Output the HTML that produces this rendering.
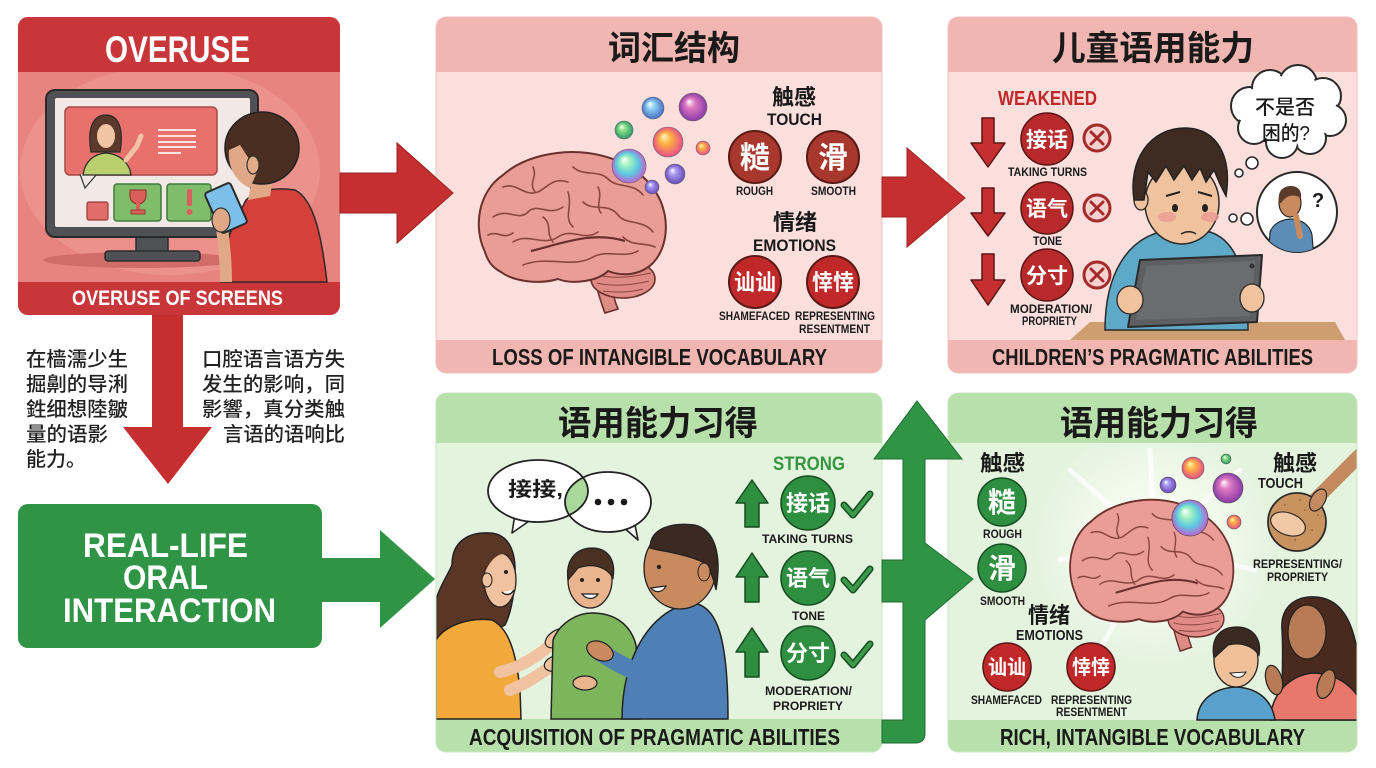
<!DOCTYPE html>
<html><head><meta charset="utf-8">
<style>
html,body{margin:0;padding:0;background:#fff;}
svg{display:block;}
.en{font-family:"Liberation Sans",sans-serif;font-weight:700;}
.cn{font-family:"Liberation Sans","Noto Sans CJK SC",sans-serif;font-weight:700;}
.cr{font-family:"Liberation Sans","Noto Sans CJK SC",sans-serif;font-weight:500;}
</style></head><body>
<svg width="1376" height="768" viewBox="0 0 1376 768" xmlns="http://www.w3.org/2000/svg">
<defs>
<clipPath id="c1"><rect x="18" y="17" width="322" height="298" rx="10"/></clipPath>
<clipPath id="c2"><rect x="436" y="17" width="446" height="356" rx="10"/></clipPath>
<clipPath id="c3"><rect x="948" y="17" width="409" height="356" rx="10"/></clipPath>
<clipPath id="c4"><rect x="436" y="393" width="446" height="359" rx="10"/></clipPath>
<clipPath id="c5"><rect x="948" y="393" width="409" height="359" rx="10"/></clipPath>
<clipPath id="cth"><circle cx="1297" cy="212" r="40"/></clipPath>
<clipPath id="lb"><ellipse cx="538" cy="491" rx="50" ry="31"/></clipPath>
<radialGradient id="gBlue" fx="0.35" fy="0.3"><stop offset="0" stop-color="#ffffff"/><stop offset="0.35" stop-color="#8fd3f2"/><stop offset="1" stop-color="#4a6fc8"/></radialGradient>
<radialGradient id="gMag" fx="0.35" fy="0.3"><stop offset="0" stop-color="#ffffff"/><stop offset="0.35" stop-color="#e07ac0"/><stop offset="1" stop-color="#8a3aa8"/></radialGradient>
<radialGradient id="gGreen" fx="0.35" fy="0.3"><stop offset="0" stop-color="#ffffff"/><stop offset="0.35" stop-color="#8fe08a"/><stop offset="1" stop-color="#2e9a6a"/></radialGradient>
<radialGradient id="gOr" fx="0.35" fy="0.3"><stop offset="0" stop-color="#fff7c0"/><stop offset="0.4" stop-color="#fbb040"/><stop offset="1" stop-color="#e8508a"/></radialGradient>
<radialGradient id="gPur" fx="0.35" fy="0.3"><stop offset="0" stop-color="#ffffff"/><stop offset="0.35" stop-color="#a89af0"/><stop offset="1" stop-color="#6a4ab8"/></radialGradient>
<radialGradient id="gRain" fx="0.35" fy="0.3"><stop offset="0" stop-color="#ffffff"/><stop offset="0.3" stop-color="#9ff0c0"/><stop offset="0.65" stop-color="#5cc8e0"/><stop offset="1" stop-color="#c060d0"/></radialGradient>
<radialGradient id="glow"><stop offset="0" stop-color="#ffffff" stop-opacity="0.95"/><stop offset="0.5" stop-color="#fbfff5" stop-opacity="0.6"/><stop offset="1" stop-color="#ffffff" stop-opacity="0"/></radialGradient>
<g id="brain">
  <path d="M120,126 C124,142 128,156 132,166 L145,162 C140,150 138,140 140,126 Z" fill="#e08c86" stroke="#6a302c" stroke-width="1.6"/>
  <ellipse cx="150" cy="132" rx="32" ry="19" fill="#df8a84" stroke="#6a302c" stroke-width="1.6"/>
  <path d="M125,128 C140,132 160,130 178,126 M124,136 C140,140 160,138 176,134 M130,144 C145,146 160,145 170,142" stroke="#8c4541" stroke-width="1" fill="none"/>
  <path d="M12,105 C0,80 5,45 30,28 C50,10 85,2 115,6 C145,10 175,25 188,55 C197,78 193,102 180,116 C168,128 150,130 135,124 C125,134 100,138 85,132 C65,138 40,134 28,125 C18,120 14,112 12,105 Z" fill="#ea9c96" stroke="#6a302c" stroke-width="2"/>
  <g stroke="#8c4541" stroke-width="1.6" fill="none" stroke-linecap="round">
    <path d="M30,40 C45,35 50,50 65,45 C75,40 80,30 95,35"/>
    <path d="M20,70 C35,60 45,75 55,65 C65,55 75,70 90,60"/>
    <path d="M100,20 C110,30 125,22 135,32 C145,42 160,35 170,48"/>
    <path d="M40,95 C55,85 70,100 85,90 C100,80 110,95 125,85"/>
    <path d="M110,55 C120,65 135,55 145,68 C152,78 170,72 180,85"/>
    <path d="M50,118 C75,108 100,122 120,110 C135,102 150,112 165,104"/>
    <path d="M95,45 C100,60 90,70 100,80"/>
    <path d="M150,90 C160,100 172,95 182,100"/>
    <path d="M15,88 C25,83 30,93 40,86"/>
    <path d="M60,20 C65,30 55,35 62,45"/>
    <path d="M125,40 C130,50 122,58 128,66"/>
    <path d="M70,70 C80,78 72,85 80,95"/>
  </g>
  <path d="M58,104 C90,96 120,84 152,94" stroke="#6a302c" stroke-width="2.2" fill="none"/>
</g>
</defs>

<!-- ============ PANEL 1 ============ -->
<g clip-path="url(#c1)">
  <rect x="18" y="17" width="322" height="298" fill="#e8847f"/>
  <ellipse cx="170" cy="170" rx="150" ry="105" fill="#ee9c98" opacity="0.55"/>
  <rect x="18" y="17" width="322" height="55" fill="#c8363a"/>
  <rect x="18" y="282" width="322" height="33" fill="#c8363a"/>
</g>
<text class="en" x="105" y="62" font-size="37" fill="#fff" textLength="145" lengthAdjust="spacingAndGlyphs">OVERUSE</text>
<text class="en" x="72" y="305" font-size="21" fill="#fff" textLength="211" lengthAdjust="spacingAndGlyphs">OVERUSE OF SCREENS</text>
<!-- monitor -->
<ellipse cx="141" cy="260" rx="98" ry="8" fill="#d06d69"/>
<rect x="136" y="235" width="32" height="18" fill="#505155" stroke="#2e2e2e" stroke-width="1.5"/>
<rect x="105" y="251" width="95" height="10" rx="3" fill="#505155" stroke="#2e2e2e" stroke-width="1.5"/>
<rect x="46" y="90" width="212" height="147" rx="9" fill="#505155" stroke="#2a2a2a" stroke-width="2"/>
<rect x="55" y="98" width="195" height="129" rx="2" fill="#f2e8e6"/>
<rect x="65" y="107" width="152" height="68" rx="5" fill="#e8716d" stroke="#a84845" stroke-width="1.5"/>
<path d="M80,174 L85,188 L97,174" fill="#f2e8e6" stroke="#333" stroke-width="1.2"/>
<path d="M91,152 C87,128 93,115 106,115 C119,115 124,130 120,152 Z" fill="#5b3a2b" stroke="#2a2a2a" stroke-width="1.2"/>
<ellipse cx="106" cy="136" rx="9" ry="12" fill="#f1c4a5"/>
<path d="M83,175 C85,161 94,154 106,153 C118,154 126,160 130,170 L131,175 Z" fill="#b9cf6e" stroke="#2a2a2a" stroke-width="1.2"/>
<path d="M126,160 L137,146 L141,136" stroke="#f1c4a5" stroke-width="5" fill="none" stroke-linecap="round"/>
<g stroke="#fbe5e3" stroke-width="2"><line x1="158" y1="130" x2="196" y2="130"/><line x1="158" y1="136" x2="196" y2="136"/><line x1="158" y1="142" x2="196" y2="142"/><line x1="158" y1="147" x2="196" y2="147"/><line x1="158" y1="153" x2="181" y2="153"/></g>
<rect x="114" y="184" width="47" height="37" rx="3" fill="#7fbd6b" stroke="#3d7a3a" stroke-width="1.5"/>
<path d="M130,190 h16 v6 a8,8 0 0 1 -16,0 z" fill="#d9605a" stroke="#8a2a28" stroke-width="1"/>
<rect x="136" y="203" width="4" height="8" fill="#d9605a"/><rect x="131" y="210" width="14" height="4" fill="#d9605a" stroke="#8a2a28" stroke-width="0.8"/>
<rect x="167" y="184" width="44" height="37" rx="3" fill="#7fbd6b" stroke="#3d7a3a" stroke-width="1.5"/>
<rect x="187" y="189" width="5" height="17" rx="2" fill="#d9605a"/><circle cx="189.5" cy="212" r="3" fill="#d9605a"/>
<rect x="87" y="202" width="21" height="18" rx="2" fill="#e06d69" stroke="#9a3b38" stroke-width="1.2"/>
<!-- boy panel1 -->
<path d="M221,282 C222,258 228,235 236,220 L246,200 C256,190 275,187 295,190 C315,200 322,240 327,282 Z" fill="#d6403b" stroke="#2a2a2a" stroke-width="1.5"/>
<path d="M248,200 L252,180 L272,184 L270,196 Z" fill="#e0a886"/>
<path d="M226,282 C226,262 224,245 222,228" stroke="#e0a886" stroke-width="12" fill="none"/>
<ellipse cx="262" cy="148" rx="37" ry="36" fill="#4b2e22" stroke="#222" stroke-width="1.5"/>
<path d="M229,150 C228,165 233,180 250,188 L258,170 C250,162 245,152 240,145 Z" fill="#e0a886"/>
<ellipse cx="253" cy="165" rx="6" ry="9" fill="#e3ab88" stroke="#333" stroke-width="1.2"/>
<g transform="rotate(-24 226 208)"><rect x="212" y="186" width="28" height="44" rx="3" fill="#7cc0ea" stroke="#2a2a2a" stroke-width="2"/></g>
<ellipse cx="221" cy="220" rx="9" ry="12" fill="#e0a886" stroke="#333" stroke-width="1.2"/>

<!-- arrows left column -->
<path d="M340,173 L397,173 L397,143 L453,193 L397,243 L397,213 L340,213 Z" fill="#c62f2f" stroke="#9e2222" stroke-width="1"/>
<path d="M152,315 L183,315 L183,427 L212,427 L168,484 L123,427 L152,427 Z" fill="#c62f2f"/>
<rect x="18" y="504" width="304" height="144" rx="10" fill="#2f9446"/>
<path d="M320,558 L380,558 L380,530 L435,579 L380,628 L380,602 L320,602 Z" fill="#2f9446"/>
<text class="en" x="83" y="557" font-size="34" fill="#fff" textLength="165" lengthAdjust="spacingAndGlyphs">REAL-LIFE</text>
<text class="en" x="123" y="589" font-size="34" fill="#fff" textLength="85" lengthAdjust="spacingAndGlyphs">ORAL</text>
<text class="en" x="63" y="622" font-size="34" fill="#fff" textLength="213" lengthAdjust="spacingAndGlyphs">INTERACTION</text>
<g class="cr" font-size="20" fill="#222">
<text x="26" y="366" textLength="102" lengthAdjust="spacingAndGlyphs">在樯濡少生</text>
<text x="26" y="391" textLength="102" lengthAdjust="spacingAndGlyphs">掘劓的导浰</text>
<text x="26" y="416" textLength="102" lengthAdjust="spacingAndGlyphs">鉎细想陸皺</text>
<text x="26" y="441" textLength="82" lengthAdjust="spacingAndGlyphs">量的语影</text>
<text x="26" y="466" textLength="60" lengthAdjust="spacingAndGlyphs">能力。</text>
<text x="202" y="366" textLength="143" lengthAdjust="spacingAndGlyphs">口腔语言语方失</text>
<text x="202" y="391" textLength="143" lengthAdjust="spacingAndGlyphs">发生的影响，同</text>
<text x="202" y="416" textLength="143" lengthAdjust="spacingAndGlyphs">影響，真分类触</text>
<text x="223" y="441" textLength="122" lengthAdjust="spacingAndGlyphs">言语的语响比</text>
</g>

<!-- ============ PANEL 2 ============ -->
<g clip-path="url(#c2)">
  <rect x="436" y="17" width="446" height="356" fill="#fbdfdc"/>
  <rect x="436" y="17" width="446" height="55" fill="#f2b6b2"/>
  <rect x="436" y="340" width="446" height="33" fill="#f2b6b2"/>
</g>
<rect x="436" y="17" width="446" height="356" rx="10" fill="none" stroke="#efc2bf" stroke-width="1"/>
<path d="M340,173 L397,173 L397,143 L453,193 L397,243 L397,213 L340,213 Z" fill="#c62f2f" stroke="#9e2222" stroke-width="1"/>
<text class="cn" x="608" y="60" font-size="34" fill="#1a1a1a" textLength="132" lengthAdjust="spacingAndGlyphs">词汇结构</text>
<text class="en" x="492" y="365" font-size="23" fill="#1a1a1a" textLength="335" lengthAdjust="spacingAndGlyphs">LOSS OF INTANGIBLE VOCABULARY</text>
<use href="#brain" transform="translate(473,147)"/>
<circle cx="653" cy="108" r="11" fill="url(#gBlue)" stroke="#666" stroke-width="0.6"/>
<circle cx="693" cy="107" r="14" fill="url(#gMag)" stroke="#666" stroke-width="0.6"/>
<circle cx="624" cy="130" r="9" fill="url(#gGreen)" stroke="#666" stroke-width="0.6"/>
<circle cx="668" cy="142" r="15" fill="url(#gOr)" stroke="#666" stroke-width="0.6"/>
<circle cx="703" cy="148" r="7" fill="url(#gOr)" stroke="#666" stroke-width="0.6"/>
<circle cx="629" cy="166" r="17" fill="url(#gRain)" stroke="#666" stroke-width="0.6"/>
<circle cx="675" cy="174" r="10" fill="url(#gPur)" stroke="#666" stroke-width="0.6"/>
<circle cx="652" cy="187" r="7" fill="url(#gPur)" stroke="#666" stroke-width="0.6"/>
<text class="cn" x="772" y="105" font-size="22" fill="#1a1a1a" textLength="44" lengthAdjust="spacingAndGlyphs">触感</text>
<text class="en" x="767" y="125" font-size="17" fill="#1a1a1a" textLength="55" lengthAdjust="spacingAndGlyphs">TOUCH</text>
<circle cx="755" cy="157" r="26" fill="#a8372e" stroke="#5a1a16" stroke-width="2"/>
<circle cx="833" cy="157" r="26" fill="#a8372e" stroke="#5a1a16" stroke-width="2"/>
<text class="cn" x="740" y="168" font-size="30" fill="#fff" textLength="30" lengthAdjust="spacingAndGlyphs">糙</text>
<text class="cn" x="818" y="168" font-size="30" fill="#fff" textLength="30" lengthAdjust="spacingAndGlyphs">滑</text>
<text class="en" x="736" y="195" font-size="12" fill="#1a1a1a" textLength="37" lengthAdjust="spacingAndGlyphs">ROUGH</text>
<text class="en" x="811" y="195" font-size="12" fill="#1a1a1a" textLength="45" lengthAdjust="spacingAndGlyphs">SMOOTH</text>
<text class="cn" x="773" y="230" font-size="22" fill="#1a1a1a" textLength="44" lengthAdjust="spacingAndGlyphs">情绪</text>
<text class="en" x="753" y="251" font-size="17" fill="#1a1a1a" textLength="83" lengthAdjust="spacingAndGlyphs">EMOTIONS</text>
<circle cx="755" cy="282" r="26" fill="#c0282a" stroke="#5a1a16" stroke-width="2"/>
<circle cx="833" cy="282" r="26" fill="#c0282a" stroke="#5a1a16" stroke-width="2"/>
<text class="cn" x="734" y="290" font-size="22" fill="#fff" textLength="42" lengthAdjust="spacingAndGlyphs">讪讪</text>
<text class="cn" x="812" y="290" font-size="22" fill="#fff" textLength="42" lengthAdjust="spacingAndGlyphs">悻悻</text>
<text class="en" x="719" y="320" font-size="12" fill="#1a1a1a" textLength="71" lengthAdjust="spacingAndGlyphs">SHAMEFACED</text>
<text class="en" x="795" y="320" font-size="12" fill="#1a1a1a" textLength="80" lengthAdjust="spacingAndGlyphs">REPRESENTING</text>
<text class="en" x="799" y="333" font-size="12" fill="#1a1a1a" textLength="71" lengthAdjust="spacingAndGlyphs">RESENTMENT</text>

<!-- ============ PANEL 3 ============ -->
<g clip-path="url(#c3)">
  <rect x="948" y="17" width="409" height="356" fill="#fbdfdc"/>
  <rect x="948" y="17" width="409" height="55" fill="#f2b6b2"/>
  <rect x="948" y="340" width="409" height="33" fill="#f2b6b2"/>
  <!-- table -->
  <path d="M1070,340 L1090,322 L1335,322 L1345,340 Z" fill="#cf9e70"/>
  <!-- boy shirt -->
  <path d="M1105,330 C1105,270 1130,240 1160,232 L1210,232 C1235,240 1248,270 1248,330 Z" fill="#5ea8c8" stroke="#2a2a2a" stroke-width="1.5"/>
</g>
<rect x="948" y="17" width="409" height="356" rx="10" fill="none" stroke="#efc2bf" stroke-width="1"/>
<path d="M882,177 L907,177 L907,148 L965,198 L907,247 L907,217 L882,217 Z" fill="#c62f2f" stroke="#9e2222" stroke-width="1"/>
<text class="cn" x="1052" y="60" font-size="34" fill="#1a1a1a" textLength="202" lengthAdjust="spacingAndGlyphs">儿童语用能力</text>
<text class="en" x="992" y="365" font-size="23" fill="#1a1a1a" textLength="321" lengthAdjust="spacingAndGlyphs">CHILDREN’S PRAGMATIC ABILITIES</text>
<text class="en" x="998" y="105" font-size="20" fill="#c0282a" textLength="99" lengthAdjust="spacingAndGlyphs">WEAKENED</text>
<g fill="#c62f2f" stroke="#5a1616" stroke-width="1.5" stroke-linejoin="round">
<path d="M982,118 h12 v25 h11 L988,167 L971,143 h11 Z"/>
<path d="M982,188 h12 v25 h11 L988,236 L971,213 h11 Z"/>
<path d="M982,254 h12 v26 h11 L988,305 L971,280 h11 Z"/>
</g>
<g fill="#b8292c" stroke="#5a1616" stroke-width="1.5">
<circle cx="1047" cy="139" r="26"/><circle cx="1047" cy="208" r="26"/><circle cx="1047" cy="275" r="26"/>
</g>
<g class="cn" font-size="21" fill="#fff">
<text x="1026" y="147" textLength="42" lengthAdjust="spacingAndGlyphs">接话</text>
<text x="1026" y="216" textLength="42" lengthAdjust="spacingAndGlyphs">语气</text>
<text x="1026" y="283" textLength="42" lengthAdjust="spacingAndGlyphs">分寸</text>
</g>
<g fill="#f6d3d0" stroke="#a52a2a" stroke-width="3">
<circle cx="1097" cy="138" r="13"/><circle cx="1097" cy="208" r="13"/><circle cx="1097" cy="275" r="13"/>
</g>
<g stroke="#a52a2a" stroke-width="3" stroke-linecap="round">
<path d="M1091,132 L1103,144 M1103,132 L1091,144"/>
<path d="M1091,202 L1103,214 M1103,202 L1091,214"/>
<path d="M1091,269 L1103,281 M1103,269 L1091,281"/>
</g>
<g class="en" font-size="12" fill="#1a1a1a">
<text x="1008" y="176" textLength="79" lengthAdjust="spacingAndGlyphs">TAKING TURNS</text>
<text x="1033" y="245" textLength="29" lengthAdjust="spacingAndGlyphs">TONE</text>
<text x="1010" y="313" textLength="82" lengthAdjust="spacingAndGlyphs">MODERATION/</text>
<text x="1022" y="325" textLength="55" lengthAdjust="spacingAndGlyphs">PROPRIETY</text>
</g>
<!-- boy face -->
<ellipse cx="1182" cy="203" rx="37" ry="41" fill="#f0c29e" stroke="#2a2a2a" stroke-width="1.5"/>
<ellipse cx="1141" cy="200" rx="7" ry="10" fill="#f0c29e" stroke="#2a2a2a" stroke-width="1.3"/>
<path d="M1134,200 C1128,160 1150,128 1185,128 C1218,128 1232,158 1226,196 L1220,184 L1214,170 L1206,182 L1200,168 L1192,180 L1184,166 L1174,180 L1166,166 L1156,182 L1148,172 L1144,200 Z" fill="#3e2b22" stroke="#222" stroke-width="1.5"/>
<ellipse cx="1167" cy="217" rx="9" ry="5" fill="#eb9a92" opacity="0.8"/>
<ellipse cx="1210" cy="217" rx="9" ry="5" fill="#eb9a92" opacity="0.8"/>
<ellipse cx="1175" cy="208" rx="3" ry="4" fill="#222"/><ellipse cx="1205" cy="208" rx="3" ry="4" fill="#222"/>
<path d="M1166,196 L1180,192 M1198,192 L1212,196" stroke="#222" stroke-width="2" fill="none"/>
<path d="M1181,234 C1186,231 1192,231 1196,234" stroke="#222" stroke-width="1.5" fill="none"/>
<!-- tablet -->
<path d="M1140,260 L1262,255 L1257,322 L1128,327 Z" fill="#5d5f63" stroke="#2a2a2a" stroke-width="2" stroke-linejoin="round"/>
<path d="M1146,266 L1255,261 L1250,316 L1136,320 Z" fill="#6a6c70"/>
<circle cx="1252" cy="266" r="2.5" fill="#333"/>
<ellipse cx="1130" cy="300" rx="13" ry="14" fill="#f0c29e" stroke="#2a2a2a" stroke-width="1.3"/>
<ellipse cx="1252" cy="298" rx="12" ry="14" fill="#f0c29e" stroke="#2a2a2a" stroke-width="1.3"/>
<!-- thought cloud -->
<g fill="#fff" stroke="#2a2a2a" stroke-width="2">
<circle cx="1250" cy="106" r="19"/><circle cx="1270" cy="88" r="18"/><circle cx="1298" cy="84" r="19"/><circle cx="1323" cy="96" r="18"/><circle cx="1330" cy="120" r="16"/><circle cx="1310" cy="138" r="16"/><circle cx="1282" cy="142" r="16"/><circle cx="1254" cy="128" r="16"/>
</g>
<g fill="#fff">
<circle cx="1250" cy="106" r="17"/><circle cx="1270" cy="88" r="16"/><circle cx="1298" cy="84" r="17"/><circle cx="1323" cy="96" r="16"/><circle cx="1330" cy="120" r="14"/><circle cx="1310" cy="138" r="14"/><circle cx="1282" cy="142" r="14"/><circle cx="1254" cy="128" r="14"/>
<ellipse cx="1290" cy="113" rx="44" ry="30"/>
</g>
<text class="cr" x="1255" y="114" font-size="20" fill="#1a1a1a" textLength="60" lengthAdjust="spacingAndGlyphs">不是否</text>
<text class="cr" x="1262" y="140" font-size="20" fill="#1a1a1a" textLength="48" lengthAdjust="spacingAndGlyphs">困的?</text>
<g fill="#fff" stroke="#2a2a2a" stroke-width="1.6">
<circle cx="1252" cy="163" r="6"/><circle cx="1239" cy="173" r="4"/><circle cx="1233" cy="218" r="4"/><circle cx="1247" cy="219" r="6"/>
<circle cx="1297" cy="212" r="40" stroke-width="2"/>
</g>
<g clip-path="url(#cth)">
<path d="M1268,260 L1270,232 C1274,222 1284,219 1292,219 C1302,220 1310,225 1312,235 L1314,260 Z" fill="#5b8db8" stroke="#2a2a2a" stroke-width="1.2"/>
<ellipse cx="1290" cy="203" rx="11" ry="14" fill="#c98a5e" stroke="#2a2a2a" stroke-width="1.2"/>
<path d="M1279,203 C1277,190 1284,186 1291,186 C1299,186 1302,192 1301,198 C1295,194 1287,194 1281,203 Z" fill="#5a3a2a"/>
<path d="M1300,236 L1296,216" stroke="#c98a5e" stroke-width="6" stroke-linecap="round"/>
</g>
<text class="en" x="1312" y="207" font-size="20" fill="#1a1a1a">?</text>

<!-- ============ PANEL 4 ============ -->
<g clip-path="url(#c4)">
  <rect x="436" y="393" width="446" height="359" fill="#e4f3de"/>
  <rect x="436" y="393" width="446" height="50" fill="#b8e0ab"/>
  <rect x="436" y="719" width="446" height="33" fill="#b8e0ab"/>
  <!-- woman -->
  <path d="M452,565 C452,540 470,532 490,533 C508,534 516,550 515,575 C514,600 510,615 505,625 L460,650 L436,650 L436,600 C440,585 448,575 452,565 Z" fill="#5a3626" stroke="#222" stroke-width="1.5"/>
  <path d="M436,719 L436,640 C445,625 470,617 492,620 C508,628 516,650 520,690 L521,719 Z" fill="#f2a93b" stroke="#222" stroke-width="1.5"/>
  <path d="M500,672 C520,668 540,655 556,640" stroke="#f0c2a0" stroke-width="12" fill="none" stroke-linecap="round"/>
  <path d="M510,690 C525,685 540,673 556,664" stroke="#f0c2a0" stroke-width="12" fill="none" stroke-linecap="round"/>
  <ellipse cx="558" cy="638" rx="14" ry="8" fill="#f0c2a0" stroke="#222" stroke-width="1.2" transform="rotate(-30 558 638)"/>
  <ellipse cx="558" cy="663" rx="14" ry="8" fill="#f0c2a0" stroke="#222" stroke-width="1.2" transform="rotate(-15 558 663)"/>
  <!-- boy -->
  <path d="M551,719 L553,640 C560,622 578,613 592,613 C612,613 630,622 636,645 L640,719 Z" fill="#7db55c" stroke="#222" stroke-width="1.5"/>
  <!-- man -->
  <path d="M622,719 C622,660 648,612 690,603 C718,603 728,640 728,719 Z" fill="#4f80b5" stroke="#222" stroke-width="1.5"/>
  <path d="M655,680 C635,672 615,662 600,652" stroke="#4f80b5" stroke-width="18" fill="none" stroke-linecap="round"/>
  <ellipse cx="600" cy="651" rx="14" ry="9" fill="#c98a5e" stroke="#222" stroke-width="1.2" transform="rotate(25 600 651)"/>
  <ellipse cx="585" cy="683" rx="12" ry="7" fill="#e9b48e" stroke="#222" stroke-width="1.2"/>
</g>
<rect x="436" y="393" width="446" height="359" rx="10" fill="none" stroke="#c9e6bf" stroke-width="1"/>
<!-- faces panel 4 -->
<ellipse cx="500" cy="580" rx="16" ry="27" fill="#f0c2a0" stroke="#222" stroke-width="1.3"/>
<path d="M486,560 C490,545 505,545 512,556 C505,552 495,552 486,570 Z" fill="#5a3626"/>
<ellipse cx="487" cy="580" rx="5" ry="7" fill="#f0c2a0" stroke="#222" stroke-width="1"/>
<circle cx="506" cy="572" r="2" fill="#222"/>
<path d="M502,592 C506,596 511,595 514,590" stroke="#222" stroke-width="1.5" fill="#fff"/>
<ellipse cx="590" cy="580" rx="22" ry="28" fill="#e9b48e" stroke="#222" stroke-width="1.3"/>
<path d="M568,580 C565,558 578,548 592,548 C608,548 616,560 613,578 C606,566 592,563 578,568 Z" fill="#4a3020" stroke="#222" stroke-width="1.3"/>
<circle cx="582" cy="580" r="2" fill="#222"/><circle cx="598" cy="580" r="2" fill="#222"/>
<path d="M582,594 C587,600 594,600 598,594 Z" fill="#fff" stroke="#222" stroke-width="1.2"/>
<ellipse cx="680" cy="568" rx="36" ry="41" fill="#c98a5e" stroke="#222" stroke-width="1.3"/>
<path d="M650,548 C650,528 672,522 695,525 C715,530 722,555 716,590 C712,570 705,562 698,560 C685,555 670,552 658,550 Z" fill="#3b2a22" stroke="#222" stroke-width="1.3"/>
<ellipse cx="704" cy="572" rx="6" ry="9" fill="#c98a5e" stroke="#222" stroke-width="1"/>
<circle cx="659" cy="567" r="2.2" fill="#222"/>
<path d="M651,588 C656,594 663,592 666,586 Z" fill="#fff" stroke="#222" stroke-width="1.2"/>
<!-- speech bubbles -->
<path d="M515,514 L512,533 L532,519 Z" fill="#fff" stroke="#222" stroke-width="1.6" stroke-linejoin="round"/>
<path d="M622,526 L638,540 L634,520 Z" fill="#fff" stroke="#222" stroke-width="1.6" stroke-linejoin="round"/>
<ellipse cx="538" cy="491" rx="50" ry="31" fill="#fff"/>
<ellipse cx="608" cy="502" rx="43" ry="30" fill="#fff"/>
<ellipse cx="608" cy="502" rx="43" ry="30" fill="#a9d99a" clip-path="url(#lb)"/>
<ellipse cx="538" cy="491" rx="50" ry="31" fill="none" stroke="#222" stroke-width="1.8"/>
<ellipse cx="608" cy="502" rx="43" ry="30" fill="none" stroke="#222" stroke-width="1.8"/>
<text class="cn" x="508" y="496" font-size="20" fill="#1a1a1a" textLength="55" lengthAdjust="spacingAndGlyphs">接接,</text>
<g fill="#1a1a1a"><circle cx="598" cy="502" r="3.3"/><circle cx="611" cy="502" r="3.3"/><circle cx="624" cy="502" r="3.3"/></g>
<text class="cn" x="558" y="435" font-size="34" fill="#1a1a1a" textLength="200" lengthAdjust="spacingAndGlyphs">语用能力习得</text>
<text class="en" x="469" y="745" font-size="23" fill="#1a1a1a" textLength="371" lengthAdjust="spacingAndGlyphs">ACQUISITION OF PRAGMATIC ABILITIES</text>
<text class="en" x="773" y="470" font-size="19" fill="#36963f" textLength="72" lengthAdjust="spacingAndGlyphs">STRONG</text>
<g fill="#2f8f40" stroke="#174d22" stroke-width="1.5" stroke-linejoin="round">
<path d="M752,480 L768,503 h-9 v24 h-14 v-24 h-9 Z"/>
<path d="M752,553 L768,577 h-9 v25 h-14 v-25 h-9 Z"/>
<path d="M752,628 L768,652 h-9 v25 h-14 v-25 h-9 Z"/>
</g>
<g fill="#2f8f40" stroke="#174d22" stroke-width="1.5">
<circle cx="808" cy="503" r="27"/><circle cx="808" cy="578" r="27"/><circle cx="808" cy="653" r="27"/>
</g>
<g class="cn" font-size="22" fill="#fff">
<text x="786" y="511" textLength="44" lengthAdjust="spacingAndGlyphs">接话</text>
<text x="786" y="586" textLength="44" lengthAdjust="spacingAndGlyphs">语气</text>
<text x="786" y="661" textLength="44" lengthAdjust="spacingAndGlyphs">分寸</text>
</g>
<g fill="none" stroke-linecap="round" stroke-linejoin="round">
<path d="M844,505 L853,515 L870,494 M844,580 L853,590 L870,569 M844,655 L853,665 L870,644" stroke="#174d22" stroke-width="7"/>
<path d="M844,505 L853,515 L870,494 M844,580 L853,590 L870,569 M844,655 L853,665 L870,644" stroke="#3a9a4a" stroke-width="4"/>
</g>
<g class="en" font-size="12" fill="#1a1a1a">
<text x="762" y="543" textLength="91" lengthAdjust="spacingAndGlyphs">TAKING TURNS</text>
<text x="792" y="620" textLength="33" lengthAdjust="spacingAndGlyphs">TONE</text>
<text x="765" y="695" textLength="87" lengthAdjust="spacingAndGlyphs">MODERATION/</text>
<text x="773" y="710" textLength="70" lengthAdjust="spacingAndGlyphs">PROPRIETY</text>
</g>

<!-- ============ PANEL 5 ============ -->
<g clip-path="url(#c5)">
  <rect x="948" y="393" width="409" height="359" fill="#e4f3de"/>
  <circle cx="1155" cy="545" r="120" fill="url(#glow)"/>
  <g stroke="#ffffff" stroke-width="5" opacity="0.7" stroke-linecap="round">
    <line x1="1155" y1="545" x2="1070" y2="470"/><line x1="1155" y1="545" x2="1240" y2="470"/><line x1="1155" y1="545" x2="1060" y2="560"/><line x1="1155" y1="545" x2="1255" y2="570"/><line x1="1155" y1="545" x2="1100" y2="650"/><line x1="1155" y1="545" x2="1230" y2="640"/><line x1="1155" y1="545" x2="1150" y2="450"/>
  </g>
  <rect x="948" y="393" width="409" height="50" fill="#b8e0ab"/>
  <rect x="948" y="720" width="409" height="32" fill="#b8e0ab"/>
  <!-- woman -->
  <path d="M1282,630 C1280,605 1298,596 1315,597 C1340,598 1352,620 1357,650 L1357,720 L1285,720 C1280,690 1284,660 1282,630 Z" fill="#4a2a1f" stroke="#222" stroke-width="1.5"/>
  <path d="M1270,720 C1272,692 1290,676 1312,673 C1335,673 1352,685 1360,700 L1360,720 Z" fill="#e8786c" stroke="#222" stroke-width="1.5"/>
  <ellipse cx="1307" cy="632" rx="19" ry="27" fill="#b97b55" stroke="#222" stroke-width="1.3"/>
  <ellipse cx="1274" cy="680" rx="8" ry="15" fill="#b97b55" stroke="#222" stroke-width="1.2" transform="rotate(-15 1274 680)"/>
  <ellipse cx="1326" cy="684" rx="8" ry="15" fill="#b97b55" stroke="#222" stroke-width="1.2" transform="rotate(20 1326 684)"/>
  <!-- kid -->
  <path d="M1197,720 C1198,700 1214,688 1236,687 C1258,688 1272,700 1275,720 Z" fill="#5aa0cc" stroke="#222" stroke-width="1.5"/>
  <ellipse cx="1236" cy="660" rx="22" ry="27" fill="#f0c09a" stroke="#222" stroke-width="1.3"/>
  <path d="M1214,658 C1210,636 1222,627 1237,627 C1252,627 1262,638 1259,655 C1252,645 1240,642 1228,645 Z" fill="#3a2a22" stroke="#222" stroke-width="1.3"/>
  <path d="M1230,673 C1235,679 1242,679 1246,672 Z" fill="#fff" stroke="#222" stroke-width="1"/>
  <!-- hand & ball -->
  <path d="M1360,455 C1345,470 1330,485 1315,500" stroke="#c48a60" stroke-width="14" fill="none" stroke-linecap="round"/>
</g>
<rect x="948" y="393" width="409" height="359" rx="10" fill="none" stroke="#c9e6bf" stroke-width="1"/>
<!-- green connector arrow -->
<path d="M882,720 L903,720 L903,602 L882,602 L882,560 L903,560 L903,459 L874,459 L917,401 L962,459 L925,459 L925,543 L973,579 L925,620 L925,733 Q925,743 915,743 L882,743 Z" fill="#2f9446" stroke="#1f6e30" stroke-width="1"/>
<text class="cn" x="1060" y="435" font-size="34" fill="#1a1a1a" textLength="198" lengthAdjust="spacingAndGlyphs">语用能力习得</text>
<text class="en" x="1000" y="745" font-size="23" fill="#1a1a1a" textLength="305" lengthAdjust="spacingAndGlyphs">RICH, INTANGIBLE VOCABULARY</text>
<use href="#brain" transform="translate(1065,495) scale(0.873,0.94)"/>
<circle cx="1190" cy="518" r="18" fill="url(#gRain)" stroke="#555" stroke-width="0.8"/>
<circle cx="1193" cy="468" r="11" fill="url(#gOr)" stroke="#555" stroke-width="0.6"/>
<circle cx="1226" cy="459" r="5" fill="url(#gGreen)" stroke="#555" stroke-width="0.6"/>
<circle cx="1168" cy="485" r="8" fill="url(#gPur)" stroke="#555" stroke-width="0.6"/>
<circle cx="1228" cy="488" r="15" fill="url(#gMag)" stroke="#555" stroke-width="0.6"/>
<circle cx="1234" cy="522" r="7" fill="url(#gOr)" stroke="#555" stroke-width="0.6"/>
<circle cx="1297" cy="522" r="29" fill="#c9935f" stroke="#2a2a2a" stroke-width="1.8"/>
<g fill="#9a6a40"><circle cx="1285" cy="505" r="1"/><circle cx="1305" cy="510" r="1"/><circle cx="1312" cy="530" r="1"/><circle cx="1295" cy="540" r="1"/><circle cx="1280" cy="528" r="1"/><circle cx="1318" cy="515" r="1"/><circle cx="1300" cy="500" r="1"/></g>
<ellipse cx="1288" cy="524" rx="18" ry="11" fill="#f2c9a5" stroke="#2a2a2a" stroke-width="1.2" transform="rotate(20 1288 524)"/>
<ellipse cx="1318" cy="500" rx="7" ry="12" fill="#c48a60" stroke="#2a2a2a" stroke-width="1.2" transform="rotate(30 1318 500)"/>
<text class="cn" x="980" y="471" font-size="22" fill="#1a1a1a" textLength="45" lengthAdjust="spacingAndGlyphs">触感</text>
<g fill="#2f8f40" stroke="#174d22" stroke-width="1.5"><circle cx="1002" cy="502" r="24"/><circle cx="1002" cy="568" r="24"/></g>
<text class="cn" x="988" y="512" font-size="28" fill="#fff" textLength="28" lengthAdjust="spacingAndGlyphs">糙</text>
<text class="cn" x="988" y="578" font-size="28" fill="#fff" textLength="28" lengthAdjust="spacingAndGlyphs">滑</text>
<text class="en" x="983" y="538" font-size="12" fill="#1a1a1a" textLength="39" lengthAdjust="spacingAndGlyphs">ROUGH</text>
<text class="en" x="980" y="605" font-size="12" fill="#1a1a1a" textLength="45" lengthAdjust="spacingAndGlyphs">SMOOTH</text>
<text class="cn" x="1028" y="623" font-size="22" fill="#1a1a1a" textLength="42" lengthAdjust="spacingAndGlyphs">情绪</text>
<text class="en" x="1016" y="640" font-size="15" fill="#1a1a1a" textLength="67" lengthAdjust="spacingAndGlyphs">EMOTIONS</text>
<g fill="#c0282a" stroke="#5a1616" stroke-width="1.5"><circle cx="1007" cy="667" r="24"/><circle cx="1091" cy="667" r="24"/></g>
<text class="cn" x="988" y="674" font-size="20" fill="#fff" textLength="38" lengthAdjust="spacingAndGlyphs">讪讪</text>
<text class="cn" x="1072" y="674" font-size="20" fill="#fff" textLength="38" lengthAdjust="spacingAndGlyphs">悻悻</text>
<text class="en" x="971" y="704" font-size="12" fill="#1a1a1a" textLength="71" lengthAdjust="spacingAndGlyphs">SHAMEFACED</text>
<text class="en" x="1051" y="704" font-size="12" fill="#1a1a1a" textLength="81" lengthAdjust="spacingAndGlyphs">REPRESENTING</text>
<text class="en" x="1056" y="716" font-size="12" fill="#1a1a1a" textLength="71" lengthAdjust="spacingAndGlyphs">RESENTMENT</text>
<text class="cn" x="1273" y="471" font-size="22" fill="#1a1a1a" textLength="44" lengthAdjust="spacingAndGlyphs">触感</text>
<text class="en" x="1258" y="488" font-size="15" fill="#1a1a1a" textLength="45" lengthAdjust="spacingAndGlyphs">TOUCH</text>
<text class="en" x="1253" y="568" font-size="12" fill="#1a1a1a" textLength="89" lengthAdjust="spacingAndGlyphs">REPRESENTING/</text>
<text class="en" x="1267" y="581" font-size="12" fill="#1a1a1a" textLength="61" lengthAdjust="spacingAndGlyphs">PROPRIETY</text>
</svg>
</body></html>
